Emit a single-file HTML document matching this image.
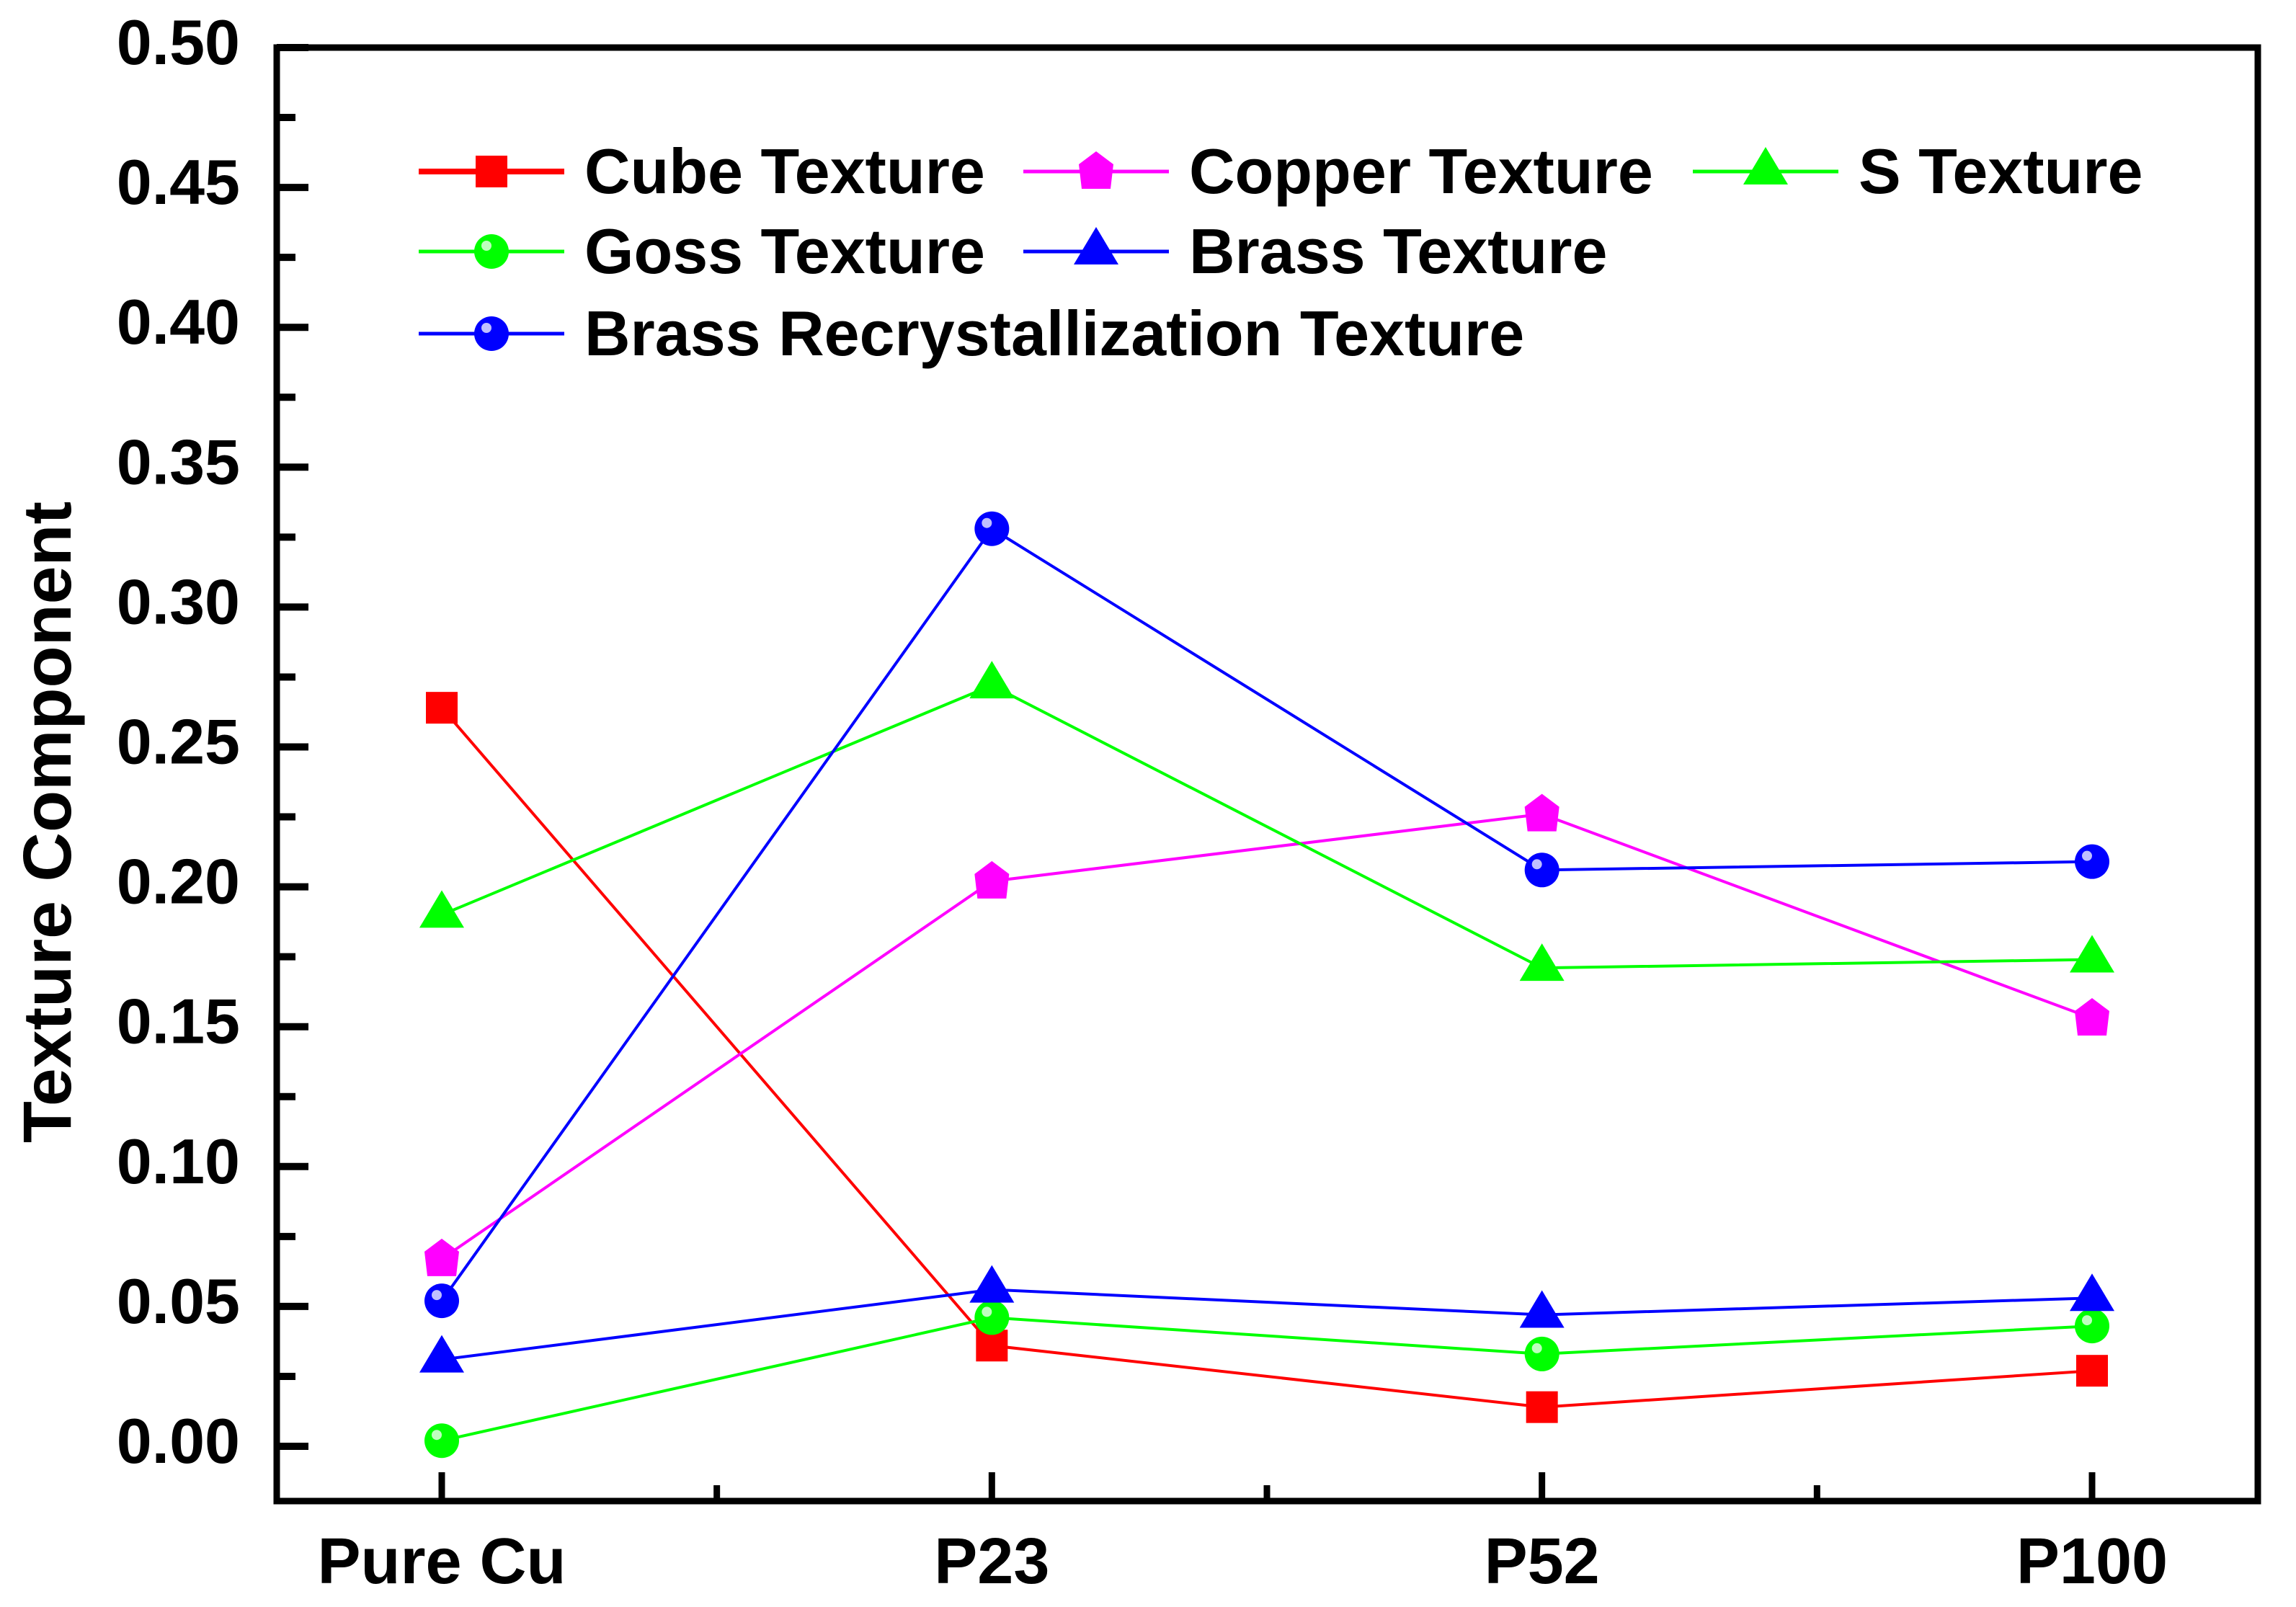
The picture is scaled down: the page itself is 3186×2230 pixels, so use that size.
<!DOCTYPE html>
<html><head><meta charset="utf-8"><style>
html,body{margin:0;padding:0;background:#fff;}
svg{display:block;}
text{font-family:"Liberation Sans",Arial,sans-serif;font-weight:bold;fill:#000;}
</style></head><body>
<svg id="chart" width="3186" height="2230" viewBox="0 0 3186 2230" xmlns="http://www.w3.org/2000/svg">
<rect x="0" y="0" width="3186" height="2230" fill="#fff"/>
<g id="plot"></g>
</svg>
<script>
const categories = ["Pure Cu", "P23", "P52", "P100"];
const yTickLabels = ["0.00","0.05","0.10","0.15","0.20","0.25","0.30","0.35","0.40","0.45","0.50"];
const cubeValues = [0.264, 0.036, 0.014, 0.027];
const copperValues = [0.067, 0.202, 0.226, 0.153];
const sValues = [0.190, 0.272, 0.171, 0.174];
const gossValues = [0.002, 0.046, 0.033, 0.043];
const brassValues = [0.031, 0.056, 0.047, 0.053];
const brassRecrValues = [0.052, 0.328, 0.206, 0.209];
const seriesNames = ["Cube Texture","Copper Texture","S Texture","Goss Texture","Brass Texture","Brass Recrystallization Texture"];

const NS = "http://www.w3.org/2000/svg";
const svg = document.getElementById('chart');
const X0 = 384, X1 = 3133, Y0 = 2083, Ytop = 66;
function xScale(i){ return 613 + i * (2903 - 613) / (categories.length - 1); }
function yScale(v){ return 2007 - v * (2007 - 66) / 0.5; }
function mk(tag, attrs, parent){
  const e = document.createElementNS(NS, tag);
  for (const k in attrs) e.setAttribute(k, attrs[k]);
  (parent || svg).appendChild(e);
  return e;
}

// y ticks
yTickLabels.forEach((lab, i) => {
  const v = parseFloat(lab), y = yScale(v);
  const t = mk('line', {x1:X0, y1:y, x2:X0+44, y2:y, stroke:'#000', 'stroke-width':10});
  
  
  if (i < yTickLabels.length - 1) {
    const ym = yScale(v + 0.025);
    const m = mk('line', {x1:X0, y1:ym, x2:X0+26, y2:ym, stroke:'#000', 'stroke-width':10});
    
    
  }
  const tx = mk('text', {x:333, y:y+23, 'font-size':88, 'text-anchor':'end'});
  tx.textContent = lab;
  
  
});
// x ticks
categories.forEach((c, i) => {
  const x = xScale(i);
  const t = mk('line', {x1:x, y1:Y0, x2:x, y2:Y0-40, stroke:'#000', 'stroke-width':9});
  
  
  if (i < categories.length - 1) {
    const xm = (xScale(i) + xScale(i+1)) / 2;
    const m = mk('line', {x1:xm, y1:Y0, x2:xm, y2:Y0-22, stroke:'#000', 'stroke-width':9});
    
    
  }
  const tx = mk('text', {x:x, y:2197, 'font-size':90, 'text-anchor':'middle'});
  tx.textContent = c;
  
  
});
// frame
const fr = mk('rect', {x:X0, y:Ytop, width:X1-X0, height:Y0-Ytop, fill:'none', stroke:'#000', 'stroke-width':9});



// y title
const yt = mk('text', {x:0, y:0, 'font-size':95, 'text-anchor':'middle', transform:'translate(98,1141) rotate(-90)'});
yt.textContent = 'Texture Component';



function marker(type, cx, cy, color, g){
  let e;
  if (type === 'square') e = mk('rect', {x:cx-22, y:cy-22, width:44, height:44, fill:color}, g);
  else if (type === 'circle') e = mk('ellipse', {cx:cx, cy:cy, rx:24, ry:24, fill:color}, g);
  else if (type === 'triangle') e = mk('polygon', {points:`${cx},${cy-34} ${cx+31},${cy+18} ${cx-31},${cy+18}`, fill:color}, g);
  else if (type === 'pentagon') e = mk('polygon', {points:`${cx},${cy-28} ${cx+24},${cy-10} ${cx+20},${cy+24} ${cx-20},${cy+24} ${cx-24},${cy-10}`, fill:color}, g);
  
  
  if (type === 'circle') {
    const h = mk('circle', {cx:cx-7, cy:cy-8, r:7, fill:'#fff', opacity:0.75}, g);
    
    
  }
}

const series = [
  {vals:cubeValues, color:'#ff0000', m:'square', lw:4},
  {vals:copperValues, color:'#ff00ff', m:'pentagon', lw:4},
  {vals:sValues, color:'#00ff00', m:'triangle', lw:4},
  {vals:gossValues, color:'#00ff00', m:'circle', lw:4},
  {vals:brassValues, color:'#0000ff', m:'triangle', lw:4},
  {vals:brassRecrValues, color:'#0000ff', m:'circle', lw:4}
];
series.forEach((s, si) => {
  const g = mk('g', {});
  
  
  const pts = s.vals.map((v, i) => xScale(i) + ',' + yScale(v)).join(' ');
  const pl = mk('polyline', {points:pts, fill:'none', stroke:s.color, 'stroke-width':s.lw}, g);
  
  
  s.vals.forEach((v, i) => marker(s.m, xScale(i), yScale(v), s.color, g));
});

// legend
const legPos = [[581,238],[1420,238],[2349,238],[581,349],[1420,349],[581,463]];
const lg = mk('g', {});


series.forEach((s, si) => {
  const [lx, ly] = legPos[si];
  const eg = mk('g', {}, lg);
  
  
  const l = mk('line', {x1:lx, y1:ly, x2:lx+202, y2:ly, stroke:s.color, 'stroke-width': si===0 ? 8 : 5}, eg);
  
  
  marker(s.m, lx+101, ly, s.color, eg);
  const t = mk('text', {x:lx+230, y:ly+30, 'font-size':88}, eg);
  t.textContent = seriesNames[si];
  
  
});
</script>
</body></html>
